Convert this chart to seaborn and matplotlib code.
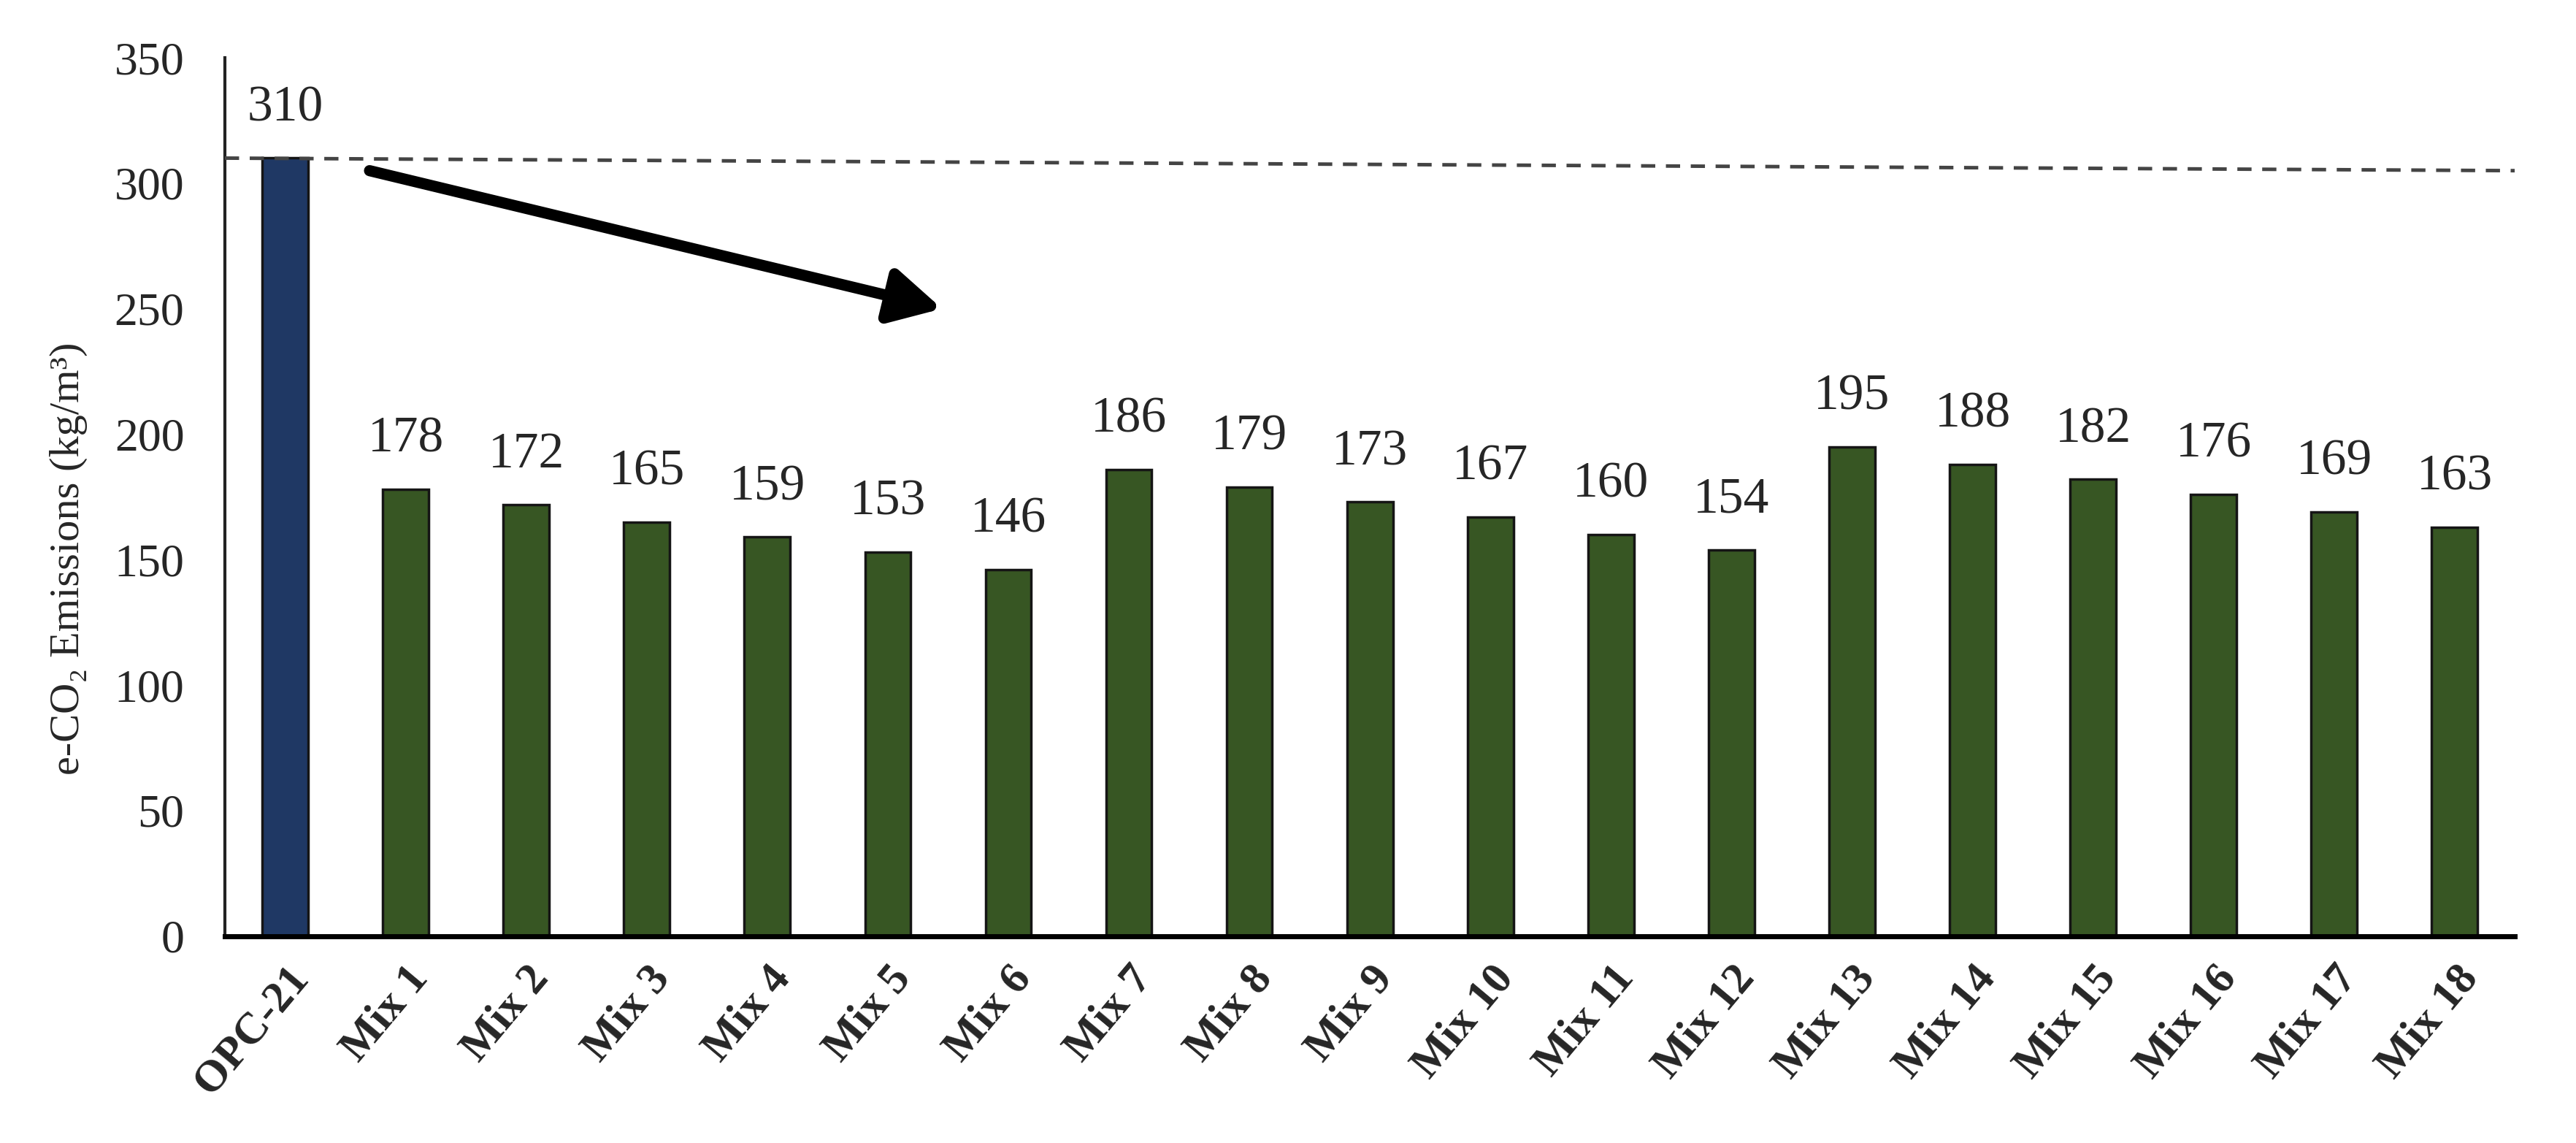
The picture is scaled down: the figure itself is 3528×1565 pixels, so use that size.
import matplotlib
matplotlib.use("Agg")
import matplotlib.pyplot as plt
import seaborn as sns
import pandas as pd

categories = ["OPC-21", "Mix 1", "Mix 2", "Mix 3", "Mix 4", "Mix 5", "Mix 6", "Mix 7", "Mix 8",
              "Mix 9", "Mix 10", "Mix 11", "Mix 12", "Mix 13", "Mix 14", "Mix 15", "Mix 16",
              "Mix 17", "Mix 18"]
emissions = [310, 178, 172, 165, 159, 153, 146, 186, 179, 173, 167, 160, 154, 195, 188, 182,
             176, 169, 163]
y_ticks = [0, 50, 100, 150, 200, 250, 300, 350]
reference_line = [310, 305]
arrow_start = (0.7, 305)
arrow_end = (5.45, 250)

sns.set_theme(style="white")
plt.rcParams['font.family'] = ['Liberation Serif', 'DejaVu Serif']

df = pd.DataFrame({"mix": categories, "co2": emissions})
colors = ["#1F3864"] + ["#375623"] * (len(categories) - 1)

fig = plt.figure(figsize=(35.28, 15.65), dpi=100)
ax = fig.add_axes([0.0873, 0.181, 0.889, 0.7685])

sns.barplot(data=df, x="mix", y="co2", hue="mix", palette=colors, legend=False,
            width=0.38, edgecolor="#151515", linewidth=2.5, saturation=1, ax=ax)

ax.set_ylim(0, 350)
ax.set_xlim(-0.5, len(categories) - 0.5)
ax.set_yticks(y_ticks)
ax.set_yticklabels([str(t) for t in y_ticks], fontsize=46)
ax.tick_params(axis="y", length=0, pad=40)
ax.tick_params(axis="x", length=0, pad=22)
ax.set_xticks(range(len(categories)))
ax.set_xticklabels(categories, rotation=50, ha="right", rotation_mode="anchor",
                   fontsize=44, fontweight="bold")

for c in ax.containers:
    ax.bar_label(c, fmt="%d", padding=26, fontsize=50)

ax.set_xlabel("")
ax.set_ylabel("e-CO₂ Emissions (kg/m³)", fontsize=42, labelpad=30)
ax.yaxis.set_label_coords(-0.06, 0.43)

for s in ["top", "right"]:
    ax.spines[s].set_visible(False)
ax.spines["left"].set_linewidth(3)
ax.spines["left"].set_color("#222222")
ax.spines["bottom"].set_linewidth(5)
ax.spines["bottom"].set_color("black")

ax.plot([-0.5, len(categories) - 0.5], reference_line, linestyle=(0, (4, 3)),
        color="#444444", linewidth=3.5, zorder=5)

ax.annotate("", xy=arrow_end, xytext=arrow_start,
            arrowprops=dict(arrowstyle="-|>,head_length=1.4,head_width=0.75",
                            lw=11, color="black", mutation_scale=30, shrinkA=0, shrinkB=0))

fig.savefig("out.png", dpi=100, facecolor="white")
